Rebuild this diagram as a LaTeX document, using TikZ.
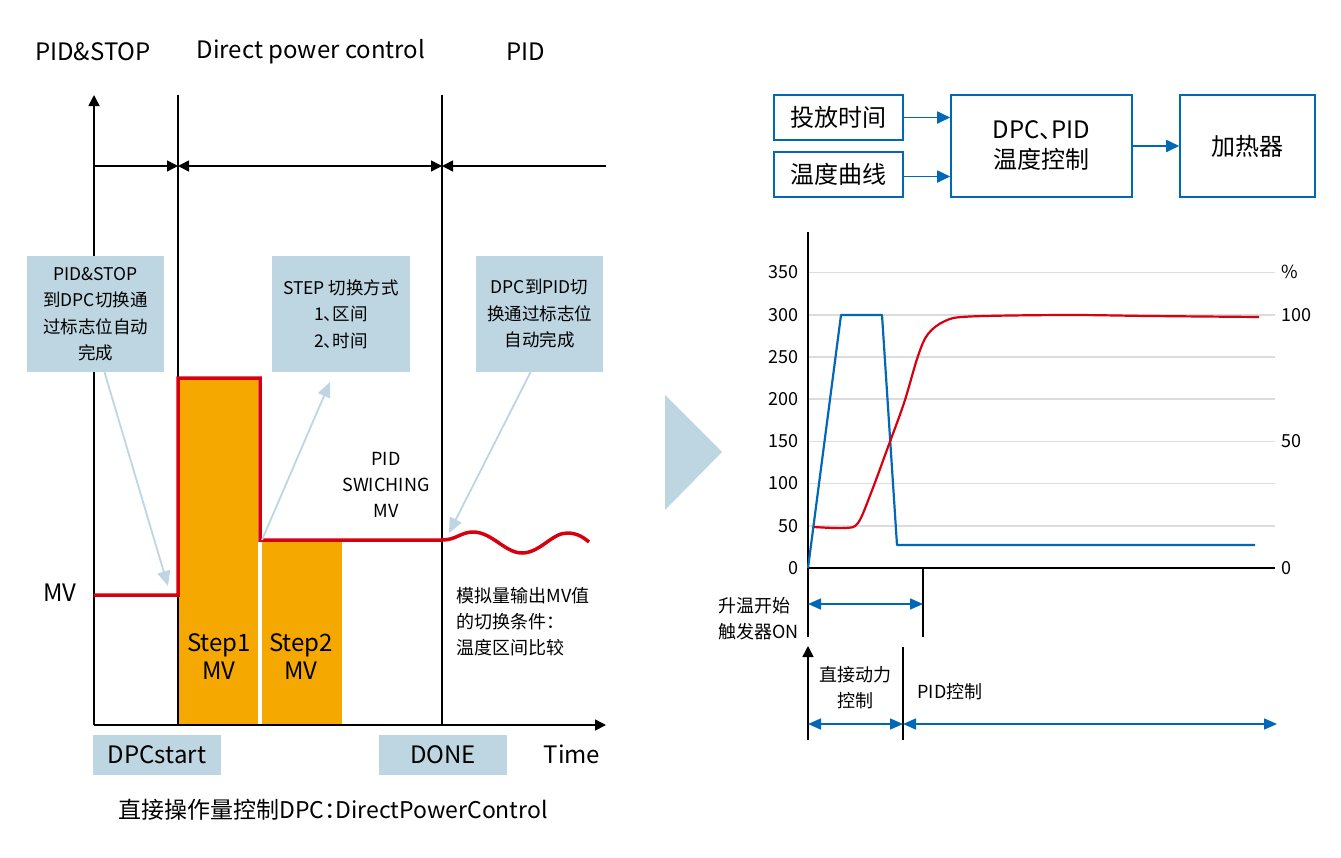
\documentclass[tikz,border=0pt]{standalone}
\usepackage{fontspec}
\usepackage{tikz}
\usetikzlibrary{arrows.meta}
\setmainfont{Noto Sans CJK SC}
\newfontfamily\paltfont[RawFeature=+palt]{Noto Sans CJK SC}
\definecolor{ctlblue}{HTML}{0068B7}
\definecolor{mvred}{HTML}{D7000F}
\definecolor{steporange}{HTML}{F5A800}
\definecolor{notepale}{HTML}{BED6E2}
\definecolor{gridgray}{HTML}{DCDCDC}
\newcommand{\fsz}[2]{\fontsize{#1}{#2}\selectfont}
\newcommand{\dun}{{\paltfont 、}}
\newcommand{\mao}{{\paltfont ：}}

\tikzset{
  axisline/.style={line width=1.6pt},
  blacktip/.style={-{Triangle[width=11pt,length=11pt]}},
  heading/.style={font=\fsz{24}{28}},
  notebox/.style={fill=notepale, inner sep=0pt, minimum height=116pt, align=center, font=\fsz{17.5}{26.5}},
  tagbox/.style={fill=notepale, inner sep=0pt, minimum width=128pt, minimum height=40pt, font=\fsz{24}{28}},
  hint/.style={notepale, line width=1.8pt, -{Triangle[width=13pt,length=15pt]}},
  mvline/.style={mvred, line width=3.5pt, line join=miter},
  blk/.style={draw=ctlblue, line width=1.6pt, inner sep=0pt, align=center, font=\fsz{24}{30}},
  flow/.style={ctlblue, line width=1.8pt, -{Triangle[width=12pt,length=13pt]}},
  span/.style={ctlblue, line width=1.6pt, {Triangle[width=11pt,length=13pt]}-{Triangle[width=11pt,length=13pt]}},
  gridline/.style={gridgray, line width=1.6pt},
  small/.style={font=\fsz{18}{26}}
}

\begin{document}
\begin{tikzpicture}[x=1pt,y=-1pt]
\useasboundingbox (0,0) rectangle (1341,857);

\node[heading] (hPS) at (93,52) {PID\&STOP};
\node[heading] (hDPC) at (311,52) {Direct power control};
\node[heading] (hPID) at (526,52) {PID};

\fill[steporange] (178,378) rectangle (258,725);
\fill[steporange] (262,540) rectangle (342,725);
\node[align=center, font=\fsz{24}{28}] (s1) at (219,657) {Step1\\MV};
\node[align=center, font=\fsz{24}{28}] (s2) at (301,657) {Step2\\MV};

\coordinate (O) at (94,725);
\coordinate (Ytop) at (94,95);
\coordinate (Xend) at (606,725);
\coordinate (d0) at (94,166);
\coordinate (d1) at (178,166);
\coordinate (d2) at (442,166);
\coordinate (d3) at (606,166);
\draw[axisline, blacktip] (O) -- (Ytop);
\draw[axisline, blacktip] (O) -- (Xend);
\draw[axisline] (178,95) -- (178,725);
\draw[axisline] (442,95) -- (442,725);
\draw[axisline, blacktip] (d0) -- (d1);
\draw[axisline, {Triangle[width=11pt,length=11pt]}-{Triangle[width=11pt,length=11pt]}] (d1) -- (d2);
\draw[axisline, blacktip] (d3) -- (d2);

\node[notebox, minimum width=137pt] (n1) at (95.5,314) {PID\&STOP\\到DPC切换通\\过标志位自动\\完成};
\node[notebox, minimum width=138pt] (n2) at (341,314) {STEP 切换方式\\1\dun 区间\\2\dun 时间};
\node[notebox, minimum width=127pt] (n3) at (539.5,314) {DPC到PID切\\换通过标志位\\自动完成};

\draw[mvline] (94,595) -| (178,378) -| (260,540) -- (442,540)
  .. controls (456,540) and (461,532) .. (473,532)
  .. controls (492,532) and (505,553) .. (522,553)
  .. controls (540,553) and (552,533) .. (567,533)
  .. controls (578,533) and (584,538) .. (589,542);

\coordinate (h1) at (168,586);
\coordinate (h2a) at (262,540);
\coordinate (h2) at (330,382);
\coordinate (h3) at (449,533);
\draw[hint] ([xshift=9pt]n1.south) -- (h1);
\draw[hint] (h2a) -- (h2);
\draw[hint] ([xshift=-9pt]n3.south) -- (h3);

\node[align=center, small] (swi) at (386,485) {PID\\SWICHING\\MV};
\node[heading] (mv) at (60,593) {MV};
\node[anchor=west, align=left, font=\fsz{18}{26}] (cond) at (453,622) {模拟量输出MV值\\的切换条件\mao\\温度区间比较};
\node[tagbox] (start) at (157,755) {DPCstart};
\node[tagbox] (done) at (443,755) {DONE};
\node[heading] (time) at (572,754) {Time};
\node[font=\fsz{23}{28}] (cap) at (333,810) {直接操作量控制DPC\mao DirectPowerControl};

\fill[notepale] (665,395) -- (722,452) -- (665,510) -- cycle;

\node[blk, minimum width=129pt, minimum height=45pt] (put) at (838.5,117.5) {投放时间};
\node[blk, minimum width=129pt, minimum height=45pt] (curve) at (838.5,174.5) {温度曲线};
\node[blk, minimum width=181pt, minimum height=102pt] (ctl) at (1041.5,146) {DPC\dun PID\\温度控制};
\node[blk, minimum width=135pt, minimum height=102pt] (heat) at (1247.5,146) {加热器};
\draw[flow] (put.east) -- (put.east -| ctl.west);
\draw[flow] ([yshift=-2pt]curve.east) -- ([yshift=-2pt]curve.east -| ctl.west);
\draw[flow] (ctl) edge (heat);

\foreach \v in {50,100,...,350}
  \draw[gridline] (808,{568-0.8443*\v}) -- (1275,{568-0.8443*\v});
\foreach \v in {0,50,...,350}
  \node[small, anchor=east] (ly\v) at (802,{568-0.8443*\v}) {\v};
\node[small, anchor=west] (ry0) at (1278,568) {0};
\node[small, anchor=west] (ry50) at (1278,441) {50};
\node[small, anchor=west] (ry100) at (1278,315) {100};
\node[small, anchor=west] (rypc) at (1278,272) {\%};

\coordinate (C0) at (808,568);
\coordinate (Ctop) at (808,232);
\coordinate (Cbot) at (808,637);
\coordinate (Cx) at (1275,568);
\coordinate (tr) at (923,568);
\coordinate (trb) at (923,637);
\draw[axisline] (Ctop) -- (Cbot);
\draw[axisline] (C0) -- (Cx);
\draw[line width=1.4pt] (tr) -- (trb);

\draw[ctlblue, line width=2.2pt, line join=round] (808,568) -- (841,315) -- (882,315) -- (897,545) -- (1255,545);
\draw[mvred, line width=2.2pt] plot[smooth, tension=0.55] coordinates {(814,527) (845,528) (858,523) (871,493) (888,447) (904,403) (918,356) (928,334) (945,321) (970,316.5) (1067,315) (1150,316) (1259,317)};

\coordinate (a0) at (808,604);
\coordinate (a1) at (923,604);
\draw[span] (a0) -- (a1);
\node[anchor=east, align=left, small] (trig) at (802,619) {升温开始\\触发器ON};

\coordinate (B0) at (808,740);
\coordinate (Btop) at (808,646);
\coordinate (sw) at (903,647);
\coordinate (swb) at (903,740);
\draw[axisline, blacktip] (B0) -- (Btop);
\draw[line width=1.4pt] (sw) -- (swb);
\coordinate (b0) at (808,724);
\coordinate (b1) at (903,724);
\coordinate (b2) at (1277,724);
\draw[span] (b0) -- (b1);
\draw[span] (b1) -- (b2);
\node[align=center, small] (dpw) at (855,688) {直接动力\\控制};
\node[anchor=west, small] (pidc) at (914,692) {PID控制};
\end{tikzpicture}
\end{document}
